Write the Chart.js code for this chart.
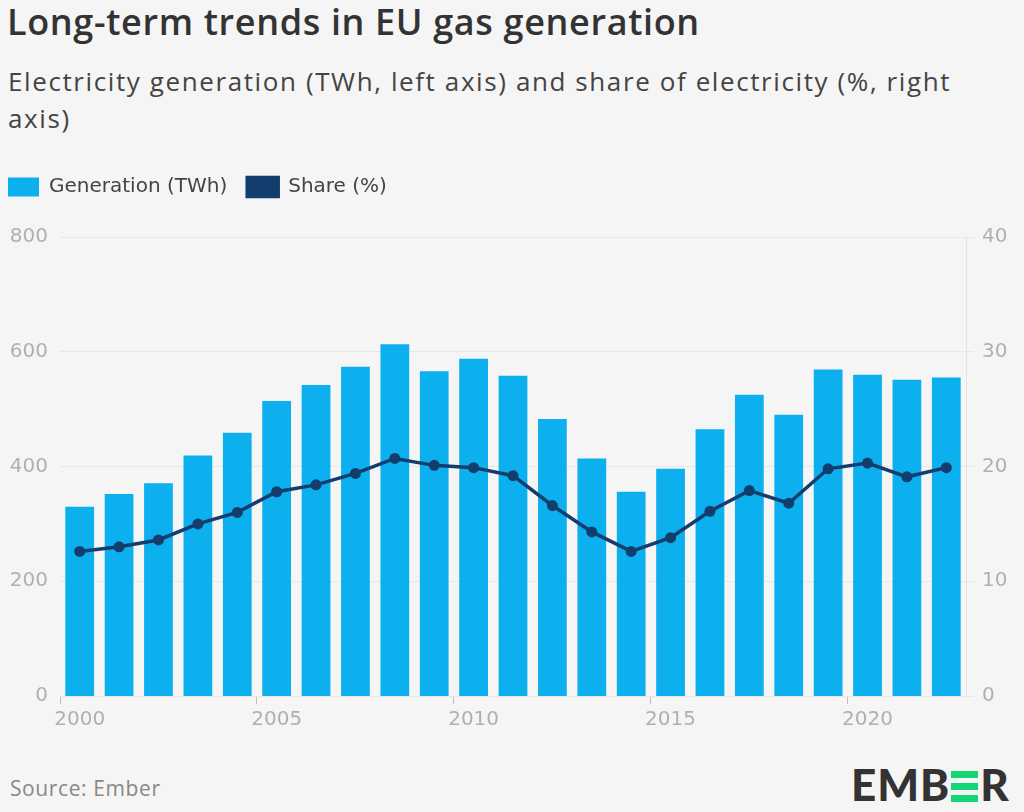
<!DOCTYPE html>
<html>
<head>
<meta charset="utf-8">
<script src="https://cdn.jsdelivr.net/npm/chart.js@4.4.1/dist/chart.umd.min.js"></script>
<style>
  body { margin: 0; background: #f5f5f5; font-family: "Open Sans", sans-serif; }
  #page { position: relative; width: 1024px; height: 812px; overflow: hidden; background: #f5f5f5; }
  #title { position: absolute; left: 7px; top: 4px; font-size: 36px; line-height: 1; font-weight: 600; letter-spacing: 0.65px; color: #333; white-space: nowrap; }
  #subtitle { position: absolute; left: 8px; top: 63px; font-size: 26px; line-height: 37px; letter-spacing: 1.6px; color: #444; white-space: nowrap; }
  #wrap { position: absolute; left: 0; top: 157px; width: 1024px; height: 583px; }
  #source { position: absolute; left: 10px; top: 778px; font-size: 21px; line-height: 1; letter-spacing: 0.6px; color: #888; white-space: nowrap; }
  #logo { position: absolute; left: 851px; top: 758px; font-size: 44px; font-weight: 900; color: #333; letter-spacing: 1px; font-family: Lato, sans-serif; white-space: nowrap; }
  #logo .e { display: inline-block; width: 27px; height: 31px; position: relative; margin: 0 2px 0 1px; vertical-align: -1px; }
  #logo .e span { position: absolute; left: 0; width: 27px; height: 7px; background: #13d675; }
</style>
</head>
<body>
<div id="page">
  <div id="title">Long-term trends in EU gas generation</div>
  <div id="subtitle">Electricity generation (TWh, left axis) and share of electricity (%, right<br>axis)</div>
  <div id="wrap"><canvas id="myChart"></canvas></div>
  <div id="source">Source: Ember</div>
  <div id="logo">EMB<span class="e"><span style="top:0"></span><span style="top:12px"></span><span style="top:24px"></span></span>R</div>
</div>
<script>
// data
var years = ['2000', '2001', '2002', '2003', '2004', '2005', '2006', '2007', '2008', '2009', '2010', '2011',
             '2012', '2013', '2014', '2015', '2016', '2017', '2018', '2019', '2020', '2021', '2022'];
var generation = [330, 352, 371, 419, 459, 514, 542, 574, 613, 566, 588, 558,
                  483, 414, 356, 396, 465, 525, 490, 569, 560, 551, 555];
var share = [12.6, 13.0, 13.6, 15.0, 16.0, 17.8, 18.4, 19.4, 20.7, 20.1, 19.9, 19.2,
             16.6, 14.3, 12.6, 13.8, 16.1, 17.9, 16.8, 19.8, 20.3, 19.1, 19.9];
var labelledYears = ['2000', '2005', '2010', '2015', '2020'];

var tickFont = { family: '"DejaVu Sans", sans-serif', size: 20 };
var tickColor = '#b0b0b0';
var gridColor = '#e7e7e7';

// legend: extra room below it and pulled to the left edge
var legendTweak = {
    id: 'legendTweak',
    beforeInit: function (chart) {
        var fit = chart.legend.fit;
        chart.legend.fit = function () {
            fit.call(this);
            this.height += 30;
        };
    },
    afterLayout: function (chart) {
        chart.legend.left = -12;
    }
};

var ctx = document.getElementById('myChart').getContext('2d');
var myChart = new Chart(ctx, {
    type: 'bar',
    data: {
        labels: years,
        datasets: [{
            label: 'Generation (TWh)',
            data: generation,
            backgroundColor: '#0cb0ee',
            borderWidth: 0,
            barPercentage: 0.73,
            categoryPercentage: 1,
            yAxisID: 'y',
            order: 1
        }, {
            type: 'line',
            label: 'Share (%)',
            data: share,
            borderColor: '#133d6c',
            backgroundColor: '#133d6c',
            borderWidth: 3.5,
            pointRadius: 5.5,
            pointBackgroundColor: '#133d6c',
            pointBorderWidth: 0,
            tension: 0,
            yAxisID: 'y1',
            order: 0
        }]
    },
    options: {
        responsive: true,
        maintainAspectRatio: false,
        animation: false,
        plugins: {
            legend: {
                align: 'start',
                labels: {
                    boxWidth: 31,
                    boxHeight: 19,
                    padding: 20,
                    color: '#444',
                    font: { family: '"DejaVu Sans", sans-serif', size: 20 },
                    sort: function (a, b) { return a.datasetIndex - b.datasetIndex; }
                }
            },
            tooltip: { enabled: false }
        },
        scales: {
            x: {
                grid: {
                    drawOnChartArea: false,
                    drawTicks: true,
                    tickLength: 8,
                    tickColor: function (c) {
                        return labelledYears.indexOf(years[c.index]) >= 0 ? '#bdbdbd' : 'rgba(0,0,0,0)';
                    }
                },
                border: { display: false },
                ticks: {
                    autoSkip: false,
                    maxRotation: 0,
                    color: tickColor,
                    font: tickFont,
                    padding: 4,
                    callback: function (v, i) {
                        return labelledYears.indexOf(years[i]) >= 0 ? years[i] : '';
                    }
                },
                afterFit: function (s) { s.height = 44; }
            },
            y: {
                position: 'left',
                min: 0,
                max: 800,
                grid: { display: false, drawTicks: false },
                border: { display: false },
                ticks: { stepSize: 200, color: tickColor, font: tickFont, padding: 12 },
                afterFit: function (s) { s.width = 60; }
            },
            y1: {
                position: 'right',
                min: 0,
                max: 40,
                grid: { color: gridColor, tickLength: 8, tickColor: gridColor },
                border: { display: true, color: '#e3e3e3' },
                ticks: { stepSize: 10, color: tickColor, font: tickFont, padding: 8 },
                afterFit: function (s) { s.width = 58; }
            }
        }
    },
    plugins: [legendTweak]
});
</script>
</body>
</html>
